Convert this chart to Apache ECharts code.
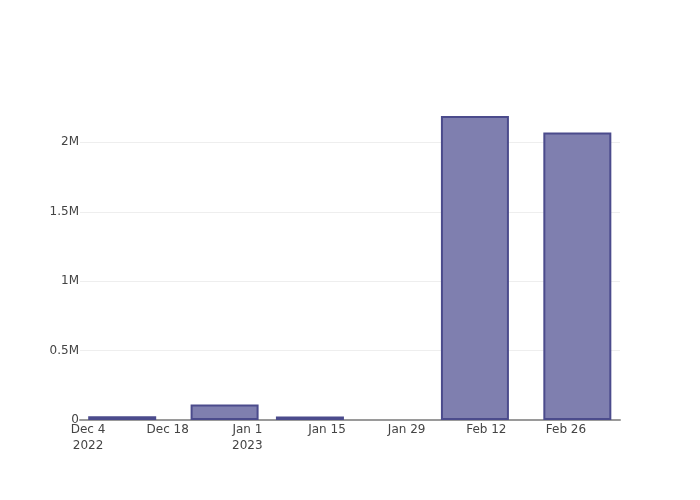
<!DOCTYPE html>
<html>
<head>
<meta charset="utf-8">
<script src="https://cdn.jsdelivr.net/npm/echarts@6/dist/echarts.min.js"></script>
<style>html,body{margin:0;padding:0;background:#fff}#c{width:700px;height:500px}</style>
</head>
<body>
<div id="c"></div>
<script>
const barDates = ['2022-12-10', '2022-12-28', '2023-01-12', '2023-02-10', '2023-02-28'];
const barValues = [27000, 112000, 25000, 2190000, 2070000];
const xTickDates = ['2022-12-04', '2022-12-18', '2023-01-01', '2023-01-15', '2023-01-29', '2023-02-12', '2023-02-26'];
const xTickLabels = ['Dec 4\n2022', 'Dec 18', 'Jan 1\n2023', 'Jan 15', 'Jan 29', 'Feb 12', 'Feb 26'];
const yTickValues = [0, 500000, 1000000, 1500000, 2000000];
const yTickLabels = ['0', '0.5M', '1M', '1.5M', '2M'];

const ts = d => new Date(d + 'T00:00:00Z').getTime();
const tickTs = xTickDates.map(ts);
const labelFor = v => {
  const i = tickTs.findIndex(t => Math.abs(t - v) < 3600000);
  return i >= 0 ? xTickLabels[i] : '';
};

const chart = echarts.init(document.getElementById('c'), null, {renderer: 'canvas'});
chart.setOption({
  animation: false,
  backgroundColor: '#fff',
  textStyle: {fontFamily: 'DejaVu Sans'},
  grid: {left: 80, right: 80, top: 100, bottom: 80, containLabel: false},
  xAxis: {
    type: 'value',
    min: new Date('2022-12-02T14:00:00Z').getTime(),
    max: new Date('2023-03-07T12:00:00Z').getTime(),
    axisLine: {show: true, lineStyle: {color: '#9a9a9a', width: 2}},
    axisTick: {show: false, customValues: tickTs},
    splitLine: {show: false},
    axisLabel: {
      customValues: tickTs,
      formatter: v => labelFor(v),
      color: '#444', fontSize: 12, fontFamily: 'DejaVu Sans',
      lineHeight: 16, margin: 2, hideOverlap: false
    }
  },
  yAxis: {
    type: 'value',
    min: 0,
    max: 2305000,
    axisLine: {show: false},
    axisTick: {show: false, customValues: yTickValues},
    splitLine: {show: true, lineStyle: {color: '#eeeeee', width: 1}},
    axisLabel: {
      customValues: yTickValues,
      formatter: v => { const i = yTickValues.indexOf(v); return i >= 0 ? yTickLabels[i] : ''; },
      color: '#444', fontSize: 12, fontFamily: 'DejaVu Sans', margin: 1
    }
  },
  series: [{
    type: 'bar',
    barWidth: 68,
    data: barDates.map((d, i) => [ts(d), barValues[i]]),
    itemStyle: {color: '#7f7faf', borderColor: '#4b4b8c', borderWidth: 2}
  }]
});
</script>
</body>
</html>
